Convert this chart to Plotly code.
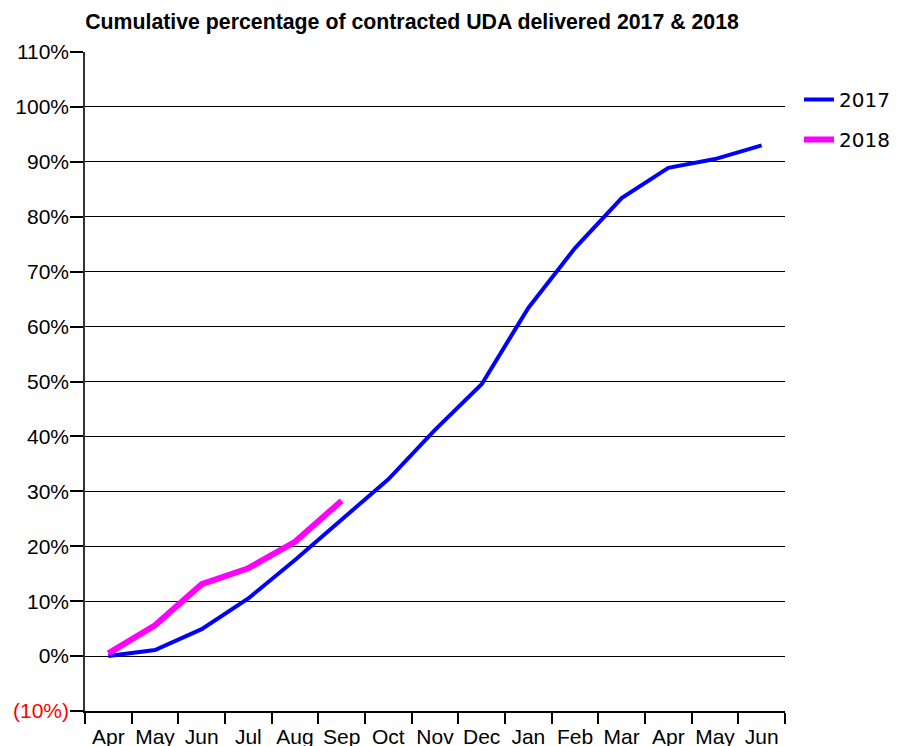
import plotly.graph_objects as go

months = ["Apr", "May", "Jun", "Jul", "Aug", "Sep", "Oct", "Nov", "Dec",
          "Jan", "Feb", "Mar", "Apr", "May", "Jun"]
pct_2017 = [0.0, 1.1, 4.9, 10.5, 17.5, 24.8, 32.2, 41.2, 49.5, 63.4,
            74.3, 83.4, 88.9, 90.5, 93.0]
pct_2018 = [0.5, 5.6, 13.1, 16.0, 20.8, 28.3]
y_ticks = list(range(-10, 111, 10))
y_labels = ['<span style="color:#ff0000">(10%)</span>'] + [f"{v}%" for v in y_ticks[1:]]

x_idx = list(range(len(months)))

# page body has an 8px margin; margins below compensate for it
L, T, R, B = 77, 44, 121, 43
PW = 898 - L - R
PH = 746 - T - B

fig = go.Figure()
fig.add_trace(go.Scatter(x=x_idx[:len(pct_2017)], y=pct_2017, mode="lines",
                         name="2017", legendgroup="a",
                         line=dict(color="#0000ff", width=4)))
fig.add_trace(go.Scatter(x=x_idx[:len(pct_2018)], y=pct_2018, mode="lines",
                         name="2018", legendgroup="b",
                         line=dict(color="#ff00ff", width=6)))

fig.update_layout(
    width=898, height=746,
    margin=dict(l=L, r=R, t=T, b=B, autoexpand=False),
    paper_bgcolor="white", plot_bgcolor="white",
    title=dict(text="<b>Cumulative percentage of contracted UDA delivered 2017 & 2018</b>",
               x=(404 - L) / PW, xref="paper", xanchor="center",
               y=1 - 14 / 746, yanchor="middle", automargin=False,
               font=dict(family="Liberation Sans, Arial", size=21.3, color="black")),
    legend=dict(x=791 / 898, xref="container", y=1 - 72 / 746, yref="container",
                xanchor="left", yanchor="top",
                font=dict(family="DejaVu Sans", size=20, color="black"),
                traceorder="grouped", tracegroupgap=11,
                bgcolor="rgba(0,0,0,0)"),
    showlegend=True,
)
fig.update_xaxes(
    range=[-0.5, len(months) - 0.5], automargin=False,
    tickmode="array", tickvals=x_idx, ticktext=months,
    ticks="", showgrid=False, zeroline=False, ticklabelstandoff=6,
    showline=True, linecolor="black", linewidth=1.5,
    tickfont=dict(family="Liberation Sans, Arial", size=21, color="black"),
    minor=dict(tickmode="array", tickvals=[i - 0.5 for i in range(len(months) + 1)],
               ticks="outside", ticklen=11, tickcolor="black", tickwidth=1.5, showgrid=False),
)
fig.update_yaxes(
    range=[-10, 110], tickmode="array", tickvals=y_ticks, ticktext=y_labels,
    automargin=False, ticklabelstandoff=-3,
    ticks="outside", ticklen=13, tickcolor="black", tickwidth=1.5,
    showgrid=True, gridcolor="black", gridwidth=1.2, zeroline=False,
    showline=True, linecolor="#333333", linewidth=1.5,
    tickfont=dict(family="Liberation Sans, Arial", size=21, color="black"),
)

fig.write_html("out.html")
